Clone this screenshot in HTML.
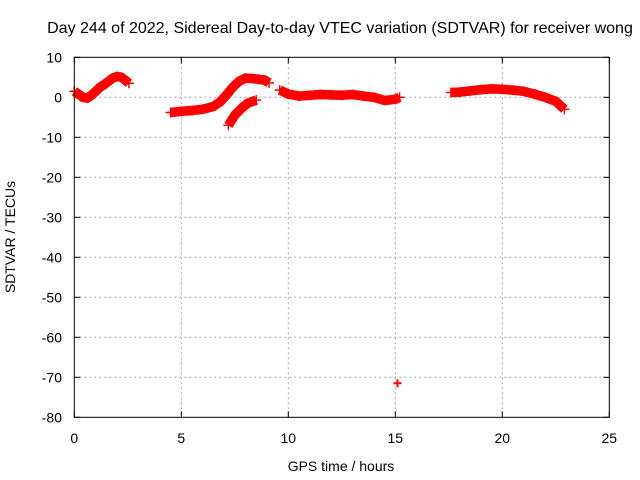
<!DOCTYPE html>
<html><head><meta charset="utf-8"><style>
body{margin:0;background:#fff}
svg{display:block;font-family:"Liberation Sans",sans-serif}
</style></head><body>
<svg id="chart" width="640" height="480">
<rect width="640" height="480" fill="#fff"/>
<text x="340" y="33" font-size="16" text-anchor="middle">Day 244 of 2022, Sidereal Day-to-day VTEC variation (SDTVAR) for receiver wong</text>
<g id="grid"></g>
<g id="ticks"></g>
<g id="data"></g>
<rect x="74.3" y="57.3" width="535" height="360" fill="none" stroke="#000" stroke-width="1"/>
<text x="341" y="471" font-size="14" text-anchor="middle">GPS time / hours</text>
<text x="15" y="237" font-size="14" text-anchor="middle" transform="rotate(-90 15 237)">SDTVAR / TECUs</text>
</svg>
<script>
const xTicks=[0,5,10,15,20,25];
const yTicks=[10,0,-10,-20,-30,-40,-50,-60,-70,-80];
const seg1T=[0,0.2,0.4,0.6,0.8,1.0,1.2,1.4,1.6,1.8,2.0,2.2,2.4,2.55];
const seg1V=[1.5,0.8,0,-0.2,0.5,1.5,2.5,3.2,4,4.8,5.2,5,4.2,3.5];
const seg2T=[4.5,5,5.5,6,6.5,6.8,7.1,7.4,7.7,8,8.3,8.6,8.9,9.1];
const seg2V=[-3.8,-3.5,-3.3,-3,-2.3,-1.2,0.5,2.5,4,4.8,4.7,4.5,4.3,3.6];
const seg3T=[7.2,7.5,7.8,8.1,8.5];
const seg3V=[-7,-4.5,-2.8,-1.5,-0.7];
const seg4T=[9.6,10,10.5,11,11.5,12,12.5,13,13.5,14,14.5,15,15.2];
const seg4V=[1.8,0.8,0.3,0.5,0.7,0.6,0.5,0.7,0.3,0,-0.8,-0.5,0];
const seg5T=[17.6,18,18.5,19,19.5,20,20.5,21,21.5,22,22.5,22.9];
const seg5V=[1.2,1.3,1.6,1.9,2.1,2,1.8,1.5,0.8,0,-1,-3];
const outT=[15.1];
const outV=[-71.5];
const NS="http://www.w3.org/2000/svg";
const L=74.3,R=609.3,T=57.3,B=417.3;
const xs=t=>L+(t-0)/25*(R-L);
const ys=v=>T+(10-v)/90*(B-T);
function mk(tag,attrs,parent){const e=document.createElementNS(NS,tag);for(const k in attrs)e.setAttribute(k,attrs[k]);parent.appendChild(e);return e;}
const grid=document.getElementById('grid'),ticks=document.getElementById('ticks'),data=document.getElementById('data');
xTicks.forEach(t=>{
 const x=xs(t);
 if(t>0&&t<25){const g=mk('line',{x1:x,x2:x,y1:T,y2:B,stroke:'#a0a0a0','stroke-dasharray':'2,3'},grid);
 
 }
 mk('line',{x1:x,x2:x,y1:B,y2:B-6,stroke:'#000'},ticks);
 mk('line',{x1:x,x2:x,y1:T,y2:T+6,stroke:'#000'},ticks);
 const tx=mk('text',{x:x,y:443,'font-size':14,'text-anchor':'middle'},ticks);tx.textContent=t;
 
 
});
yTicks.forEach(v=>{
 const y=ys(v);
 if(v<10&&v>-80){const g=mk('line',{x1:L,x2:R,y1:y,y2:y,stroke:'#a0a0a0','stroke-dasharray':'2,3'},grid);
 
 }
 mk('line',{x1:L,x2:L+6,y1:y,y2:y,stroke:'#000'},ticks);
 mk('line',{x1:R,x2:R-6,y1:y,y2:y,stroke:'#000'},ticks);
 const tx=mk('text',{x:62,y:y+5,'font-size':14,'text-anchor':'end'},ticks);tx.textContent=v;
 
 
});
function seg(ts,vs,name){
 const pts=ts.map((t,i)=>xs(t)+','+ys(vs[i])).join(' ');
 const p=mk('polyline',{points:pts,fill:'none',stroke:'#f00','stroke-width':9.5,'stroke-linejoin':'round','stroke-linecap':'butt'},data);
 
 
 ts.forEach((t,i)=>{const x=xs(t),y=ys(vs[i]);
  mk('path',{d:`M${x-5},${y}h10M${x},${y-5}v10`,stroke:'#f00','stroke-width':1.5},data);});
}
seg(seg1T,seg1V,'series-segment-1');
seg(seg2T,seg2V,'series-segment-2');
seg(seg3T,seg3V,'series-segment-3');
seg(seg4T,seg4V,'series-segment-4');
seg(seg5T,seg5V,'series-segment-5');
outT.forEach((t,i)=>{const x=xs(t),y=ys(outV[i]);
 const p=mk('path',{d:`M${x-4},${y}h8M${x},${y-4}v8`,stroke:'#f00','stroke-width':2},data);
 
 
});
</script>
</body></html>
